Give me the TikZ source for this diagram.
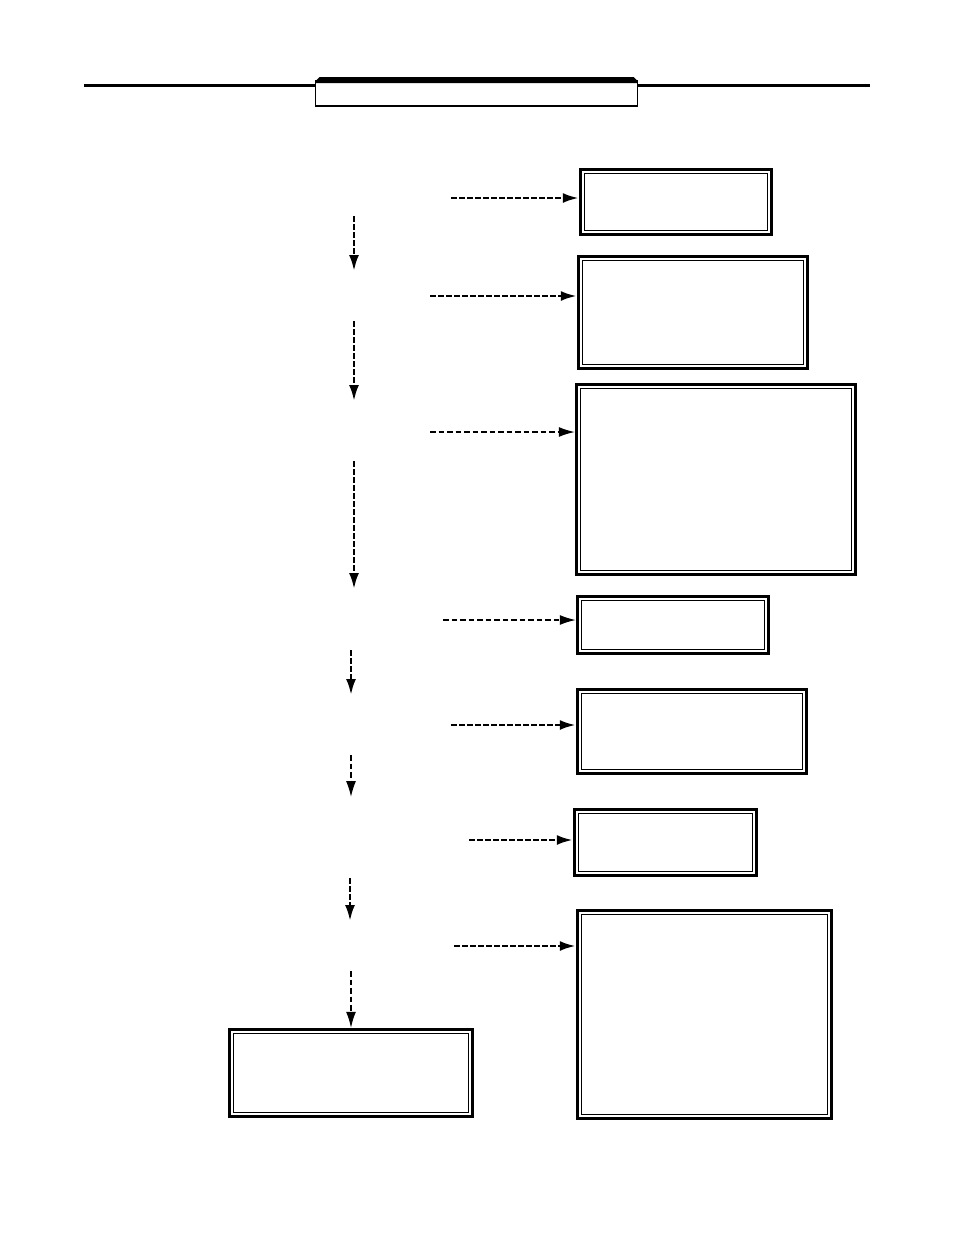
\documentclass[tikz,border=0pt]{standalone}
\usetikzlibrary{arrows.meta}
\begin{document}
\begin{tikzpicture}[x=1pt,y=-1pt,
  dbox/.style 2 args={draw, line width=3.4pt, inner sep=0pt, outer sep=1.7pt,
    minimum width=#1, minimum height=#2},
  innerline/.style={line width=1.1pt},
  tip/.style={-{Latex[length=16pt,width=10pt]}},
  thickflow/.style={line width=2.6pt, dash pattern=on 5.5pt off 2.5pt, tip},
  thinflow/.style={line width=1.4pt, dash pattern=on 5.5pt off 3pt, tip}
]
\useasboundingbox (0,0) rectangle (954,1235);
% header
\draw[line width=3pt] (84,85.5) -- (870,85.5);
\node[draw, fill=white, line width=1.4pt, inner sep=0pt, outer sep=0pt,
      minimum width=322pt, minimum height=25pt] (header) at (476.5,93.5) {};
\fill (header.north west) -- ++(4,-4) -- ([shift={(-4pt,4pt)}]header.north east) -- (header.north east) -- ([shift={(0pt,-2pt)}]header.north east) -- ([shift={(0pt,-2pt)}]header.north west) -- cycle;
% boxes
\node[dbox={191pt}{65pt}] (b1) at (676,202) {};
\node[dbox={229pt}{112pt}] (b2) at (693,312.5) {};
\node[dbox={279pt}{190pt}] (b3) at (716,479.5) {};
\node[dbox={191pt}{57pt}] (b4) at (673,625) {};
\node[dbox={229pt}{84pt}] (b5) at (692,731.5) {};
\node[dbox={182pt}{66pt}] (b6) at (665.5,842.5) {};
\node[dbox={254pt}{208pt}] (b7) at (704.5,1014.5) {};
\node[dbox={243pt}{87pt}] (b8) at (351,1073) {};
\foreach \n in {b1,b2,b3,b4,b5,b6,b7,b8}
  \draw[innerline] ([shift={(6pt,-6pt)}]\n.north west) rectangle ([shift={(-6pt,6pt)}]\n.south east);
% horizontal arrow starts
\coordinate (h1) at (451,198);
\coordinate (h2) at (430,296);
\coordinate (h3) at (430,432);
\coordinate (h4) at (443,620);
\coordinate (h5) at (451,725);
\coordinate (h6) at (469,840);
\coordinate (h7) at (454,946);
\draw[thickflow] (h1) -- (h1 -| b1.west);
\draw[thickflow] (h2) -- (h2 -| b2.west);
\draw[thinflow] (h3) -- (h3 -| b3.west);
\draw[thinflow] (h4) -- (h4 -| b4.west);
\draw[thickflow] (h5) -- (h5 -| b5.west);
\draw[thickflow] (h6) -- (h6 -| b6.west);
\draw[thickflow] (h7) -- (h7 -| b7.west);
% vertical arrows
\coordinate (v1s) at (354,216); \coordinate (v1e) at (354,271);
\coordinate (v2s) at (354,321); \coordinate (v2e) at (354,401);
\coordinate (v3s) at (354,461); \coordinate (v3e) at (354,589);
\coordinate (v4s) at (351,650); \coordinate (v4e) at (351,695);
\coordinate (v5s) at (351,755); \coordinate (v5e) at (351,797);
\coordinate (v6s) at (350,878); \coordinate (v6e) at (350,921);
\coordinate (v7s) at (351,971);
\draw[thickflow] (v1s) -- (v1e);
\draw[thickflow] (v2s) -- (v2e);
\draw[thickflow] (v3s) -- (v3e);
\draw[thickflow] (v4s) -- (v4e);
\draw[thinflow] (v5s) -- (v5e);
\draw[thickflow] (v6s) -- (v6e);
\draw[thinflow] (v7s) -- (b8.north);
\end{tikzpicture}
\end{document}
